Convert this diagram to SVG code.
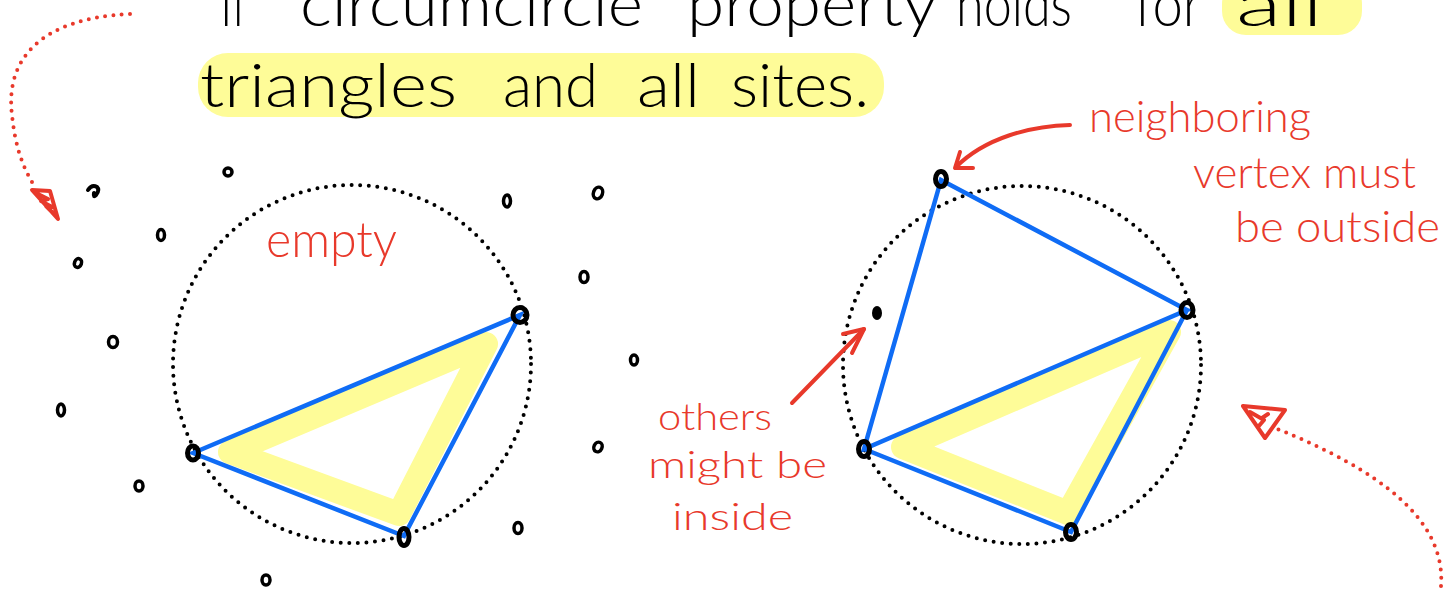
<svg xmlns="http://www.w3.org/2000/svg" width="1455" height="589" viewBox="0 0 1455 589">
<style>
.title{font-family:Lato,"Liberation Sans",sans-serif;font-weight:300;font-size:62px;fill:#000}
.note{font-family:Lato,"Liberation Sans",sans-serif;font-weight:300;font-size:44px;fill:#e8392b}
.small{font-size:38px}
.hl{fill:#fefc98}
.band{fill:none;stroke:#fefc98;stroke-width:24;stroke-linejoin:round;stroke-linecap:round}
.circ{fill:none;stroke:#000;stroke-width:4;stroke-dasharray:0 8.6;stroke-linecap:round}
.edge{stroke:#0f6cf5;stroke-width:4.5;stroke-linecap:round;fill:none}
.site{fill:none;stroke:#000;stroke-width:3.5}
.vert{fill:none;stroke:#000;stroke-width:5}
.rdot{fill:none;stroke:#e8392b;stroke-width:4;stroke-dasharray:0 8.3;stroke-linecap:round}
.rline{fill:none;stroke:#e8392b;stroke-width:4;stroke-linecap:round;stroke-linejoin:round}
</style>
<rect width="1455" height="589" fill="#fff"/>

<g id="title">
<rect class="hl" x="1222" y="-20" width="140" height="55" rx="24"/>
<rect class="hl" x="198" y="53" width="686" height="64" rx="30"/>
<text class="title" x="220" y="26" textLength="28" lengthAdjust="spacingAndGlyphs">If</text>
<text class="title" x="300" y="26" textLength="343" lengthAdjust="spacingAndGlyphs">circumcircle</text>
<text class="title" x="687" y="26" textLength="250" lengthAdjust="spacingAndGlyphs">property</text>
<text class="title" x="956" y="26" textLength="116" lengthAdjust="spacingAndGlyphs">holds</text>
<text class="title" x="1135" y="26" textLength="67" lengthAdjust="spacingAndGlyphs">for</text>
<text class="title" x="1236" y="26" textLength="87" lengthAdjust="spacingAndGlyphs">all</text>
<text class="title" x="200" y="107" textLength="257" lengthAdjust="spacingAndGlyphs">triangles</text>
<text class="title" x="503" y="107" textLength="95" lengthAdjust="spacingAndGlyphs">and</text>
<text class="title" x="637" y="107" textLength="63" lengthAdjust="spacingAndGlyphs">all</text>
<text class="title" x="731" y="107" textLength="138" lengthAdjust="spacingAndGlyphs">sites.</text>
</g>

<g id="left-diagram">
<path class="band" d="M230 452 L486 344 L399 514 Z"/>
<circle class="circ" cx="352" cy="364" r="179"/>
<path class="edge" d="M193 453 L520 315 L404 536 Z"/>
<ellipse class="vert" cx="520" cy="315" rx="7" ry="7.5"/>
<ellipse class="vert" cx="193" cy="453" rx="5.5" ry="7"/>
<ellipse class="vert" cx="404" cy="537" rx="5" ry="8.5"/>
<text class="note" x="266" y="257" style="font-size:50px" textLength="131" lengthAdjust="spacingAndGlyphs">empty</text>
</g>

<g id="sites">
<path d="M88 190 q4 -6 9 -3 q3 3 -1 8 q-3 3 -2 -2" fill="none" stroke="#000" stroke-width="4" stroke-linecap="round"/>
<ellipse class="site" cx="228" cy="172" rx="4" ry="4"/>
<ellipse class="site" cx="161" cy="235" rx="3.5" ry="5.5"/>
<ellipse class="site" cx="78" cy="263" rx="3.5" ry="4.5" transform="rotate(20 78 263)"/>
<ellipse class="site" cx="113" cy="342" rx="4.5" ry="5.5"/>
<ellipse class="site" cx="61" cy="410" rx="3.5" ry="6"/>
<ellipse class="site" cx="139" cy="486" rx="4" ry="5"/>
<ellipse class="site" cx="266" cy="580" rx="4" ry="5"/>
<ellipse class="site" cx="507" cy="201" rx="3.5" ry="6"/>
<ellipse class="site" cx="598" cy="193" rx="4.5" ry="6" transform="rotate(20 598 193)"/>
<ellipse class="site" cx="584" cy="277" rx="4" ry="5.5"/>
<ellipse class="site" cx="634" cy="360" rx="3.5" ry="5"/>
<ellipse class="site" cx="598" cy="447" rx="4" ry="5" transform="rotate(25 598 447)"/>
<ellipse class="site" cx="518" cy="528" rx="4" ry="5.5"/>
</g>

<g id="right-diagram">
<path class="band" d="M903 447 L1169 332 L1068 513 Z"/>
<circle class="circ" cx="1022" cy="365" r="179"/>
<path class="edge" d="M941 180 L1187 310 L864 449 Z M864 449 L1071 532 L1187 310"/>
<ellipse class="vert" cx="941" cy="179" rx="5.5" ry="7.5"/>
<ellipse class="vert" cx="1187" cy="310" rx="6" ry="7.5"/>
<ellipse class="vert" cx="864" cy="449" rx="5.5" ry="7.5"/>
<ellipse class="vert" cx="1071" cy="532" rx="5.5" ry="7.5"/>
<ellipse cx="877" cy="313" rx="5" ry="7" fill="#000"/>
</g>

<g id="labels">
<text class="note" x="1089" y="132" textLength="222" lengthAdjust="spacingAndGlyphs">neighboring</text>
<text class="note" x="1193" y="188" textLength="223" lengthAdjust="spacingAndGlyphs">vertex must</text>
<text class="note" x="1235" y="242" textLength="205" lengthAdjust="spacingAndGlyphs">be outside</text>
<text class="note small" x="658" y="430" textLength="114" lengthAdjust="spacingAndGlyphs">others</text>
<text class="note small" x="648" y="478" textLength="179" lengthAdjust="spacingAndGlyphs">might be</text>
<text class="note small" x="672" y="530" textLength="121" lengthAdjust="spacingAndGlyphs">inside</text>
</g>

<g id="connectors">
<path class="rline" d="M1070 125 C1030 126 985 138 956 167"/>
<path class="rline" d="M960 152 L955 168 L973 168"/>
<path class="rline" d="M792 403 L864 329"/>
<path class="rline" d="M843 334 L864 329 L852 353"/>
<path class="rdot" d="M130 14 C40 18 5 60 12 115 C15 145 22 165 32 182"/>
<path class="rline" d="M32 190 L50 191 L58 219 Z M38 194 L48 199 L41 201 L52 207 M46 206 L54 214" stroke-width="4.5"/>
<path class="rdot" d="M1441 586 C1446 520 1380 470 1275 428"/>
<path class="rline" d="M1243 406 L1285 410 L1265 438 Z M1250 412 L1264 420 L1258 427 M1262 418 L1268 414" stroke-width="4.5"/>
</g>
</svg>
